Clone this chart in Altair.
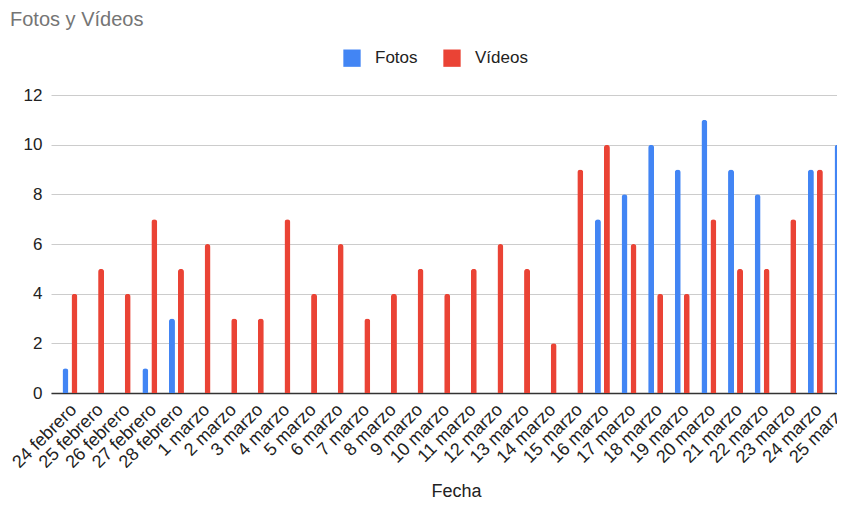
import altair as alt
import pandas as pd

fechas = ["24 febrero", "25 febrero", "26 febrero", "27 febrero", "28 febrero",
          "1 marzo", "2 marzo", "3 marzo", "4 marzo", "5 marzo", "6 marzo",
          "7 marzo", "8 marzo", "9 marzo", "10 marzo", "11 marzo", "12 marzo",
          "13 marzo", "14 marzo", "15 marzo", "16 marzo", "17 marzo", "18 marzo",
          "19 marzo", "20 marzo", "21 marzo", "22 marzo", "23 marzo", "24 marzo",
          "25 marzo"]
fotos = [1, 0, 0, 1, 3, 0, 0, 0, 0, 0, 0, 0, 0, 0, 0, 0, 0, 0, 0, 0,
         7, 8, 10, 9, 11, 9, 8, 0, 9, 10]
videos = [4, 5, 4, 7, 5, 6, 3, 3, 7, 4, 6, 3, 4, 5, 4, 5, 6, 5, 2, 9,
          10, 6, 4, 4, 7, 5, 5, 7, 9, 4]
series = ["Fotos", "Vídeos"]
colores = ["#4285F4", "#EA4335"]

df = pd.DataFrame({"Fecha": fechas, "Fotos": fotos, "Vídeos": videos})
long = df.melt(id_vars="Fecha", value_vars=series, var_name="Tipo", value_name="Valor")

FONT = "Liberation Sans"

chart = alt.Chart(long).mark_bar(
    size=6, cornerRadiusEnd=3
).encode(
    x=alt.X("Fecha:N", sort=fechas,
            scale=alt.Scale(range=[0, 810], paddingInner=0.324, paddingOuter=0.375),
            axis=alt.Axis(title="Fecha", labelAngle=-45, labelAlign="right",
                          labelBaseline="middle", labelPadding=14, labelOffset=4,
                          labelFontSize=18, labelColor="#222222", labelFont=FONT,
                          ticks=False, domainColor="#333333", domainWidth=1.5,
                          titleFont=FONT, titleFontSize=18, titleFontWeight="normal",
                          titleColor="#222222", titleY=103, titleBaseline="alphabetic",
                          labelOverlap=False)),
    xOffset=alt.XOffset("Tipo:N", sort=series),
    y=alt.Y("Valor:Q", scale=alt.Scale(domain=[0, 12], nice=False),
            axis=alt.Axis(title=None, values=[0, 2, 4, 6, 8, 10, 12], ticks=False,
                          domain=False, gridColor="#cccccc", gridWidth=1,
                          labelFontSize=17, labelColor="#222222", labelFont=FONT,
                          labelPadding=9)),
    color=alt.Color("Tipo:N", sort=series,
                    scale=alt.Scale(domain=series, range=colores),
                    legend=alt.Legend(title=None, orient="none", direction="horizontal",
                                      legendX=292, legendY=-46, symbolType="square",
                                      symbolSize=300, symbolStrokeWidth=0,
                                      labelFontSize=17, labelFont=FONT,
                                      labelColor="#222222", labelOffset=14,
                                      columnPadding=25)),
).properties(
    width=786, height=298,
    title=alt.TitleParams("Fotos y Vídeos", anchor="start", fontSize=20,
                          color="#757575", font=FONT, fontWeight="normal",
                          dx=-41, dy=-15, frame="group"),
    autosize=alt.AutoSizeParams(type="none"),
    padding={"left": 43, "top": 87, "right": 0, "bottom": 108},
).configure_view(stroke=None)

chart.save("out.html", embed_options={"renderer": "svg", "actions": False})
